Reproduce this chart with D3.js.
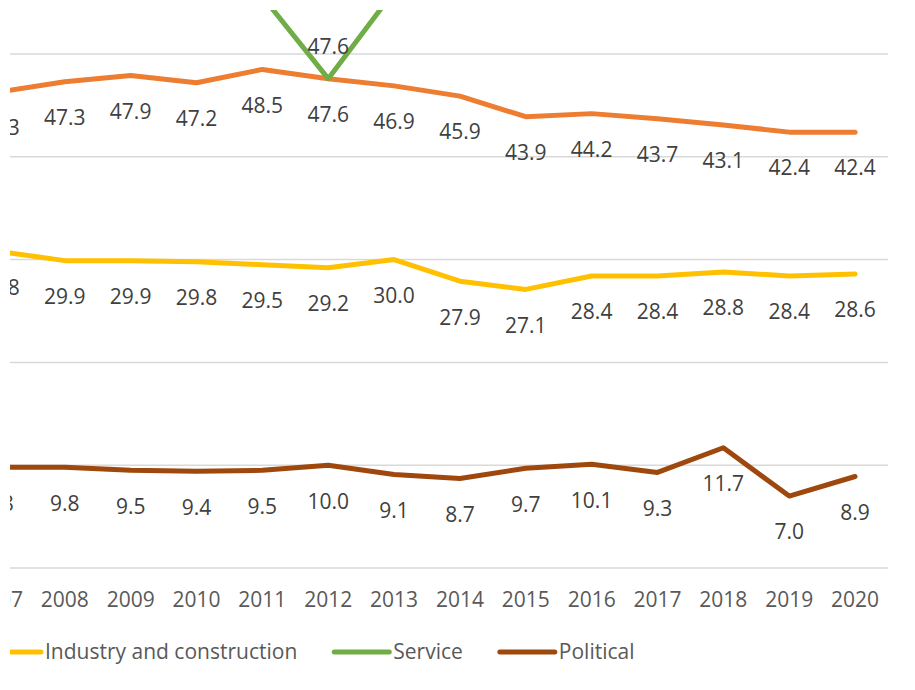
<!DOCTYPE html>
<html>
<head>
<meta charset="utf-8">
<script src="https://cdn.jsdelivr.net/npm/d3@7"></script>
<style>
  body { margin: 0; background: #fff; }
  svg { display: block; font-family: "Open Sans", sans-serif; }
</style>
</head>
<body>
<svg id="chart" width="915" height="690"></svg>
<script>
var years = [2007, 2008, 2009, 2010, 2011, 2012, 2013, 2014, 2015, 2016, 2017, 2018, 2019, 2020];

var agriculture = [46.3, 47.3, 47.9, 47.2, 48.5, 47.6, 46.9, 45.9, 43.9, 44.2, 43.7, 43.1, 42.4, 42.4];
var industry    = [30.8, 29.9, 29.9, 29.8, 29.5, 29.2, 30.0, 27.9, 27.1, 28.4, 28.4, 28.8, 28.4, 28.6];
// only the part near 2012 is in view
var service     = [null, null, null, null, 55.6, 47.6, 56.1, null, null, null, null, null, null, null];
var political   = [9.8, 9.8, 9.5, 9.4, 9.5, 10.0, 9.1, 8.7, 9.7, 10.1, 9.3, 11.7, 7.0, 8.9];

var yTicks = [0, 10, 20, 30, 40, 50];

var series = [
  { name: 'Agriculture', values: agriculture, color: '#ED7D31', labelPos: 'below' },
  { name: 'Industry and construction', values: industry, color: '#FFC000', labelPos: 'below' },
  { name: 'Service', values: service, color: '#70AD47', labelPos: 'above' },
  { name: 'Political', values: political, color: '#9E480E', labelPos: 'below' }
];

var svg = d3.select('#chart');

svg.append('defs').append('clipPath').attr('id', 'view')
  .append('rect').attr('x', 10).attr('y', 10).attr('width', 905).attr('height', 680);

var g = svg.append('g').attr('clip-path', 'url(#view)');

var x = d3.scaleBand().domain(years).range([-34, 888]);
var y = d3.scaleLinear().domain([0, 50]).range([568, 54]);
var cx = (d) => x(d) + x.bandwidth() / 2;

// gridlines
g.append('g')
  .selectAll('line')
  .data(yTicks)
  .enter().append('line')
  .attr('x1', x.range()[0])
  .attr('x2', x.range()[1])
  .attr('y1', (d) => y(d))
  .attr('y2', (d) => y(d))
  .attr('stroke', '#D9D9D9')
  .attr('stroke-width', 1.5);

// category labels
g.append('g')
  .selectAll('text')
  .data(years)
  .enter().append('text')
  .attr('x', cx)
  .attr('y', 600)
  .attr('dy', '0.35em')
  .attr('text-anchor', 'middle')
  .attr('font-size', '21px')
  .attr('fill', '#595959')
  .text((d) => d);

var line = d3.line()
  .defined((d) => d[1] !== null)
  .x((d) => cx(d[0]))
  .y((d) => y(d[1]));

series.forEach((s) => {
  let pts = years.map((yr, i) => [yr, s.values[i]]);

  g.append('path')
    .datum(pts)
    .attr('fill', 'none')
    .attr('stroke', s.color)
    .attr('stroke-width', 5)
    .attr('stroke-linejoin', 'round')
    .attr('stroke-linecap', 'round')
    .attr('d', line);

  // data labels
  g.append('g')
    .selectAll('text')
    .data(pts.filter((d) => d[1] !== null))
    .enter().append('text')
    .attr('x', (d) => cx(d[0]))
    .attr('y', (d) => y(d[1]) + (s.labelPos === 'above' ? -32 : 36))
    .attr('dy', '0.35em')
    .attr('text-anchor', 'middle')
    .attr('font-size', '21px')
    .attr('fill', '#404040')
    .text((d) => d[1].toFixed(1));
});

// legend
var legend = g.append('g').attr('transform', 'translate(0, 652)');
var items = legend.selectAll('g')
  .data(series)
  .enter().append('g');

items.append('line')
  .attr('x1', 0).attr('x2', 55)
  .attr('stroke', (d) => d.color)
  .attr('stroke-width', 5)
  .attr('stroke-linecap', 'round');

items.append('text')
  .attr('x', 59)
  .attr('dy', '0.35em')
  .attr('font-size', '21px')
  .attr('fill', '#595959')
  .text((d) => d.name);

var widths = [];
items.each(function() { widths.push(55 + 4 + this.querySelector('text').getComputedTextLength() + 37); });

var starts = [];
starts[1] = -14;
starts[0] = starts[1] - widths[0];
for (let i = 2; i < series.length; i++) starts[i] = starts[i - 1] + widths[i - 1];

items.attr('transform', (d, i) => `translate(${ starts[i] }, 0)`);
</script>
</body>
</html>
